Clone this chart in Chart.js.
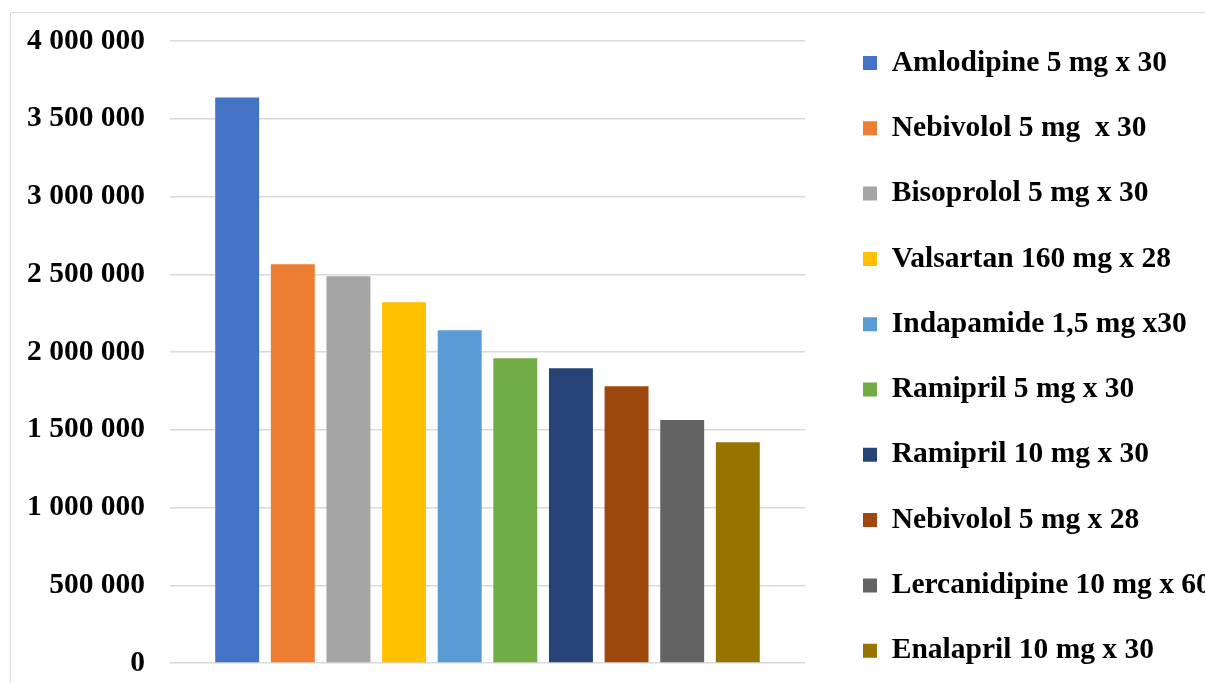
<!DOCTYPE html>
<html>
<head>
<meta charset="utf-8">
<title>Ventes</title>
<script src="https://cdn.jsdelivr.net/npm/chart.js@4.4.0/dist/chart.umd.min.js"></script>
<style>
  body { margin: 0; background: #fff; overflow: hidden; }
  #wrap { position: relative; width: 1205px; height: 683px; }
  #frame { position: absolute; left: 10px; top: 12px; width: 1300px; height: 800px; border: 1px solid #d9d9d9; }
  #grafica { position: absolute; left: 0; top: 0; }
</style>
</head>
<body>
<div id="wrap">
  <div id="frame"></div>
  <canvas id="grafica" width="1205" height="683"></canvas>
</div>
<script>
// medicamentos y valores
const drugs = [
  'Amlodipine 5 mg x 30',
  'Nebivolol 5 mg  x 30',
  'Bisoprolol 5 mg x 30',
  'Valsartan 160 mg x 28',
  'Indapamide 1,5 mg x30',
  'Ramipril 5 mg x 30',
  'Ramipril 10 mg x 30',
  'Nebivolol 5 mg x 28',
  'Lercanidipine 10 mg x 60',
  'Enalapril 10 mg x 30'
];
const sales = [3636000, 2564000, 2487000, 2320000, 2140000, 1960000, 1896000, 1780000, 1562000, 1420000];
const colors = ['#4472C4', '#ED7D31', '#A5A5A5', '#FFC000', '#5B9BD5', '#70AD47', '#264478', '#9E480E', '#636363', '#997300'];

const Y_MAX = 4000000;
const Y_STEP = 500000;

// separador de miles con espacio
function fmt(v) {
  return String(v).replace(/\B(?=(\d{3})+(?!\d))/g, ' ');
}

// leyenda: ancho fijo y posicion a mano
const LEGEND_PAD = 35.8;
const legendPlace = {
  id: 'legendPlace',
  afterInit(chart) {
    const legend = chart.legend;
    if (!legend) return;
    const fit = legend.fit;
    legend.fit = function () {
      fit.call(this);
      this.width = 400;
    };
  },
  afterLayout(chart) {
    const legend = chart.legend;
    legend.left = 863 - LEGEND_PAD;
    legend.top = 63 - 14.75 - LEGEND_PAD;
    legend.bottom = 5000;
  }
};

Chart.defaults.font.family = '"Liberation Serif", "Times New Roman", serif';
Chart.defaults.font.weight = 'bold';
Chart.defaults.font.size = 29.5;
Chart.defaults.color = '#000';

const ctx = document.getElementById('grafica').getContext('2d');

new Chart(ctx, {
  type: 'bar',
  data: {
    labels: [''],
    datasets: drugs.map((name, i) => ({
      label: name,
      data: [sales[i]],
      backgroundColor: colors[i],
      borderWidth: 0,
      categoryPercentage: 0.876,
      barPercentage: 0.79
    }))
  },
  options: {
    responsive: false,
    animation: false,
    layout: { padding: { left: 27, top: 41, right: 0, bottom: 20 } },
    plugins: {
      legend: {
        position: 'right',
        align: 'start',
        labels: {
          boxWidth: 14,
          boxHeight: 14,
          padding: LEGEND_PAD,
          color: '#000',
          font: { size: 29.5, weight: 'bold', lineHeight: 1 }
        }
      },
      tooltip: { enabled: false }
    },
    scales: {
      x: { display: false },
      y: {
        min: 0,
        max: Y_MAX,
        ticks: {
          stepSize: Y_STEP,
          padding: 0,
          color: '#000',
          font: { size: 29.5, weight: 'bold' },
          callback: v => fmt(v)
        },
        grid: { color: '#d9d9d9', lineWidth: 1.5, tickLength: 25, tickColor: 'rgba(0,0,0,0)' },
        border: { display: false }
      }
    }
  },
  plugins: [legendPlace]
});
</script>
</body>
</html>
